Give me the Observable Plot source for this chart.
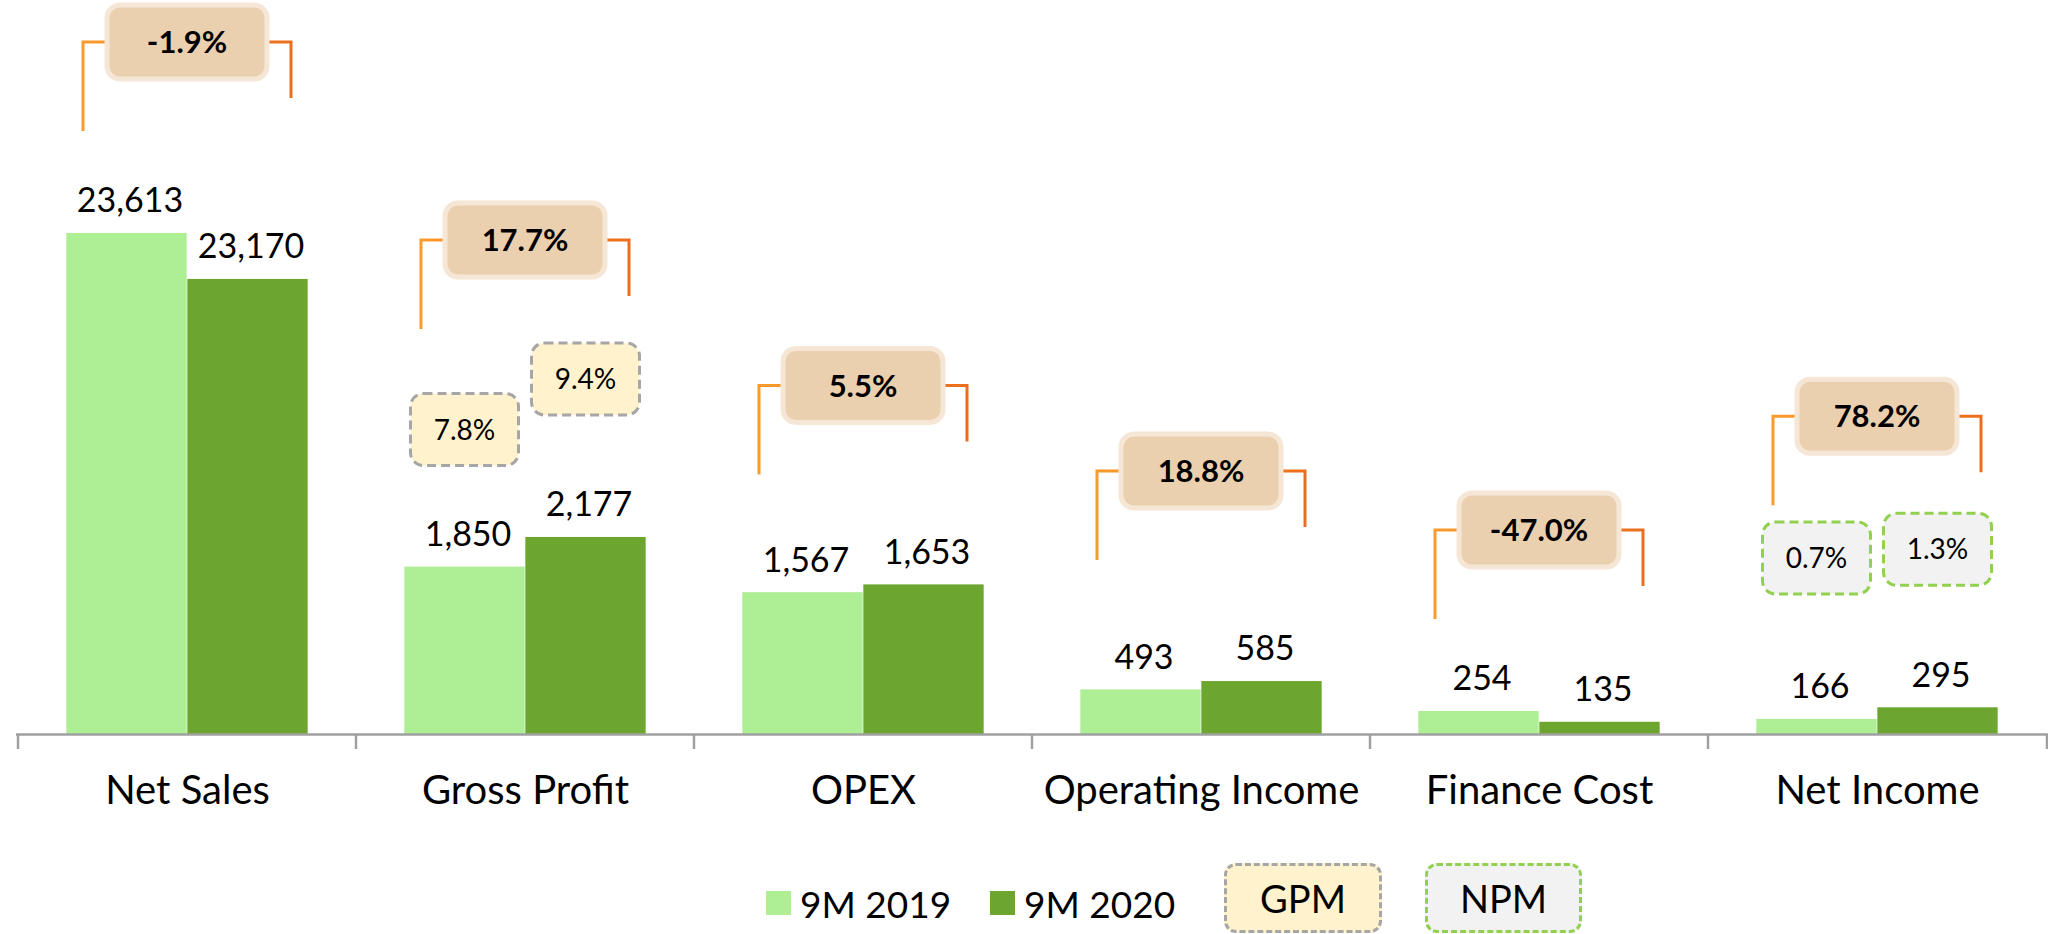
<!DOCTYPE html>
<html>
<head>
<meta charset="utf-8">
<script src="https://cdn.jsdelivr.net/npm/d3@7"></script>
<script src="https://cdn.jsdelivr.net/npm/@observablehq/plot@0.6"></script>
<style>
  html, body { margin: 0; padding: 0; background: #fff; }
  body { font-family: Lato, "Open Sans", sans-serif; color: #000; width: 2048px; }
  #legend { position: relative; height: 84px; width: 2048px; }
  #legend .item { position: absolute; top: 0; height: 100px; display: flex; align-items: center; font-size: 37px; white-space: nowrap; }
  #legend .sw { width: 25px; height: 24px; margin-right: 9px; }
  #legend .box { position: absolute; top: 13px; height: 70px; box-sizing: border-box; border-radius: 12px;
                 border: 3px dashed; display: flex; align-items: center; justify-content: center; font-size: 38px; }
</style>
</head>
<body>
<div id="chart"></div>
<div id="legend"></div>
<script>
// ---------- data ----------
const categories = ["Net Sales", "Gross Profit", "OPEX", "Operating Income", "Finance Cost", "Net Income"];
const seriesNames = ["9M 2019", "9M 2020"];
const values2019 = [23613, 1850, 1567, 493, 254, 166];
const values2020 = [23170, 2177, 1653, 585, 135, 295];
const changeLabels = ["-1.9%", "17.7%", "5.5%", "18.8%", "-47.0%", "78.2%"];
const gpmCategory = "Gross Profit";
const gpmLabels = ["7.8%", "9.4%"];
const npmCategory = "Net Income";
const npmLabels = ["0.7%", "1.3%"];
const legendMargins = ["GPM", "NPM"];

// ---------- layout / style ----------
const W = 2048, H = 850, baseline = 734;
const colors = ["#aeee94", "#6ca62f"];
const bw = (W - 16) / categories.length;
const barW = 121;
const side = bw / 2 - barW;
// broken (piecewise) value axis: small values linear, Net Sales compressed
const yDomain = [0, 3000, 23000, 24000];
const yRange = [baseline, baseline - 3000 * 0.0905, 296.6, 192.8];
// annotation placement (pixels above the taller bar of each group)
const bracketLift = {"Net Sales": 191, "Gross Profit": 297, "OPEX": 199, "Operating Income": 210, "Finance Cost": 181, "Net Income": 291};
const marginBoxLift = {"Gross Profit": [137, 158], "Net Income": [161, 158]};

const data = categories.flatMap((c, i) => [
  {category: c, series: seriesNames[0], value: values2019[i]},
  {category: c, series: seriesNames[1], value: values2020[i]}
]);
const fmt = d3.format(",");

function annotations(index, scales) {
  const x = scales.x, y = scales.y;
  const bwid = x.bandwidth ? x.bandwidth() : bw;
  const g = d3.create("svg:g");
  const defs = g.append("defs");
  const grad = defs.append("linearGradient").attr("id", "brk").attr("x1", "0").attr("x2", "1").attr("y1", "0").attr("y2", "0");
  grad.append("stop").attr("offset", "0").attr("stop-color", "#f99b2a");
  grad.append("stop").attr("offset", "1").attr("stop-color", "#ec6e1c");

  // baseline with group ticks
  const x0 = x.range()[0], x1 = x.range()[1];
  g.append("line").attr("x1", x0).attr("x2", x1).attr("y1", y(0) + 0.5).attr("y2", y(0) + 0.5)
    .attr("stroke", "#a0a0a0").attr("stroke-width", 2.5);
  categories.concat([null]).forEach((c) => {
    const tx = c == null ? x1 - 1 : x(c);
    g.append("line").attr("x1", tx).attr("x2", tx).attr("y1", y(0)).attr("y2", y(0) + 15)
      .attr("stroke", "#a0a0a0").attr("stroke-width", 2.5);
  });

  categories.forEach((c, i) => {
    const cx = x(c) + bwid / 2;
    const topBar = Math.min(y(values2019[i]), y(values2020[i]));
    const ly = topBar - bracketLift[c];
    // bracket
    g.append("path")
      .attr("d", `M${cx - 104},${ly + 89}V${ly}H${cx + 104}V${ly + 56}`)
      .attr("fill", "none").attr("stroke", "url(#brk)").attr("stroke-width", 3);
    // change box
    g.append("rect").attr("x", cx - 80).attr("y", ly - 37).attr("width", 160).attr("height", 74)
      .attr("rx", 13).attr("fill", "#ebd0b0").attr("stroke", "#f5e6d6").attr("stroke-width", 5);
    g.append("text").attr("x", cx).attr("y", ly).attr("dy", "0.36em").attr("text-anchor", "middle")
      .attr("font-size", 31).attr("font-weight", "bold").text(changeLabels[i]);

    if (marginBoxLift[c]) {
      const isG = c === gpmCategory;
      const labels = isG ? gpmLabels : npmLabels;
      const fill = isG ? "#fff2cc" : "#f2f2f2";
      const stroke = isG ? "#a6a6a6" : "#92d050";
      const vals = [values2019[i], values2020[i]];
      const lifts = marginBoxLift[c];
      [0, 1].forEach((k) => {
        const bx = cx + (k === 0 ? -1 : 1) * barW / 2;
        const by = y(vals[k]) - lifts[k];
        g.append("rect").attr("x", bx - 54).attr("y", by - 36).attr("width", 108).attr("height", 72)
          .attr("rx", 13).attr("fill", fill).attr("stroke", stroke).attr("stroke-width", 3)
          .attr("stroke-dasharray", "9 5");
        g.append("text").attr("x", bx).attr("y", by).attr("dy", "0.36em").attr("text-anchor", "middle")
          .attr("font-size", 28).text(labels[k]);
      });
    }
  });
  return g.node();
}

const chart = Plot.plot({
  width: W,
  height: H,
  marginLeft: 16,
  marginRight: 0,
  marginTop: 0,
  marginBottom: H - baseline,
  style: {fontFamily: "Lato, 'Open Sans', sans-serif", color: "#000", background: "#fff", overflow: "visible"},
  x: {domain: categories, padding: 0, label: null, axis: null},
  y: {type: "linear", domain: yDomain, range: yRange, axis: null},
  color: {domain: seriesNames, range: colors},
  marks: [
    Plot.barY(data.filter(d => d.series === seriesNames[0]), {x: "category", y: "value", fill: "series", insetLeft: side, insetRight: bw / 2}),
    Plot.barY(data.filter(d => d.series === seriesNames[1]), {x: "category", y: "value", fill: "series", insetLeft: bw / 2, insetRight: side}),
    Plot.text(data.filter(d => d.series === seriesNames[0]), {x: "category", y: "value", text: d => fmt(d.value), dx: -barW / 2 + 3, dy: -32, fontSize: 34, lineAnchor: "middle", fill: "#000"}),
    Plot.text(data.filter(d => d.series === seriesNames[1]), {x: "category", y: "value", text: d => fmt(d.value), dx: barW / 2 + 3, dy: -32, fontSize: 34, lineAnchor: "middle", fill: "#000"}),
    Plot.axisX({tickSize: 0, tickPadding: 41, fontSize: 40, label: null, fill: "#000"}),
    annotations
  ]
});
document.getElementById("chart").appendChild(chart);

// ---------- legend ----------
const legend = d3.select("#legend");
const legendX = [766, 990];
seriesNames.forEach((s, k) => {
  const it = legend.append("div").attr("class", "item").style("left", legendX[k] + "px").style("top", "4px").style("height", "98px");
  it.append("div").attr("class", "sw").style("background", colors[k]);
  it.append("span").text(s);
});
const boxStyles = [
  {left: 1224, width: 158, fill: "#fff2cc", stroke: "#a6a6a6"},
  {left: 1425, width: 157, fill: "#f2f2f2", stroke: "#92d050"}
];
legendMargins.forEach((m, k) => {
  legend.append("div").attr("class", "box")
    .style("left", boxStyles[k].left + "px").style("width", boxStyles[k].width + "px")
    .style("background", boxStyles[k].fill).style("border-color", boxStyles[k].stroke)
    .text(m);
});
</script>
</body>
</html>
